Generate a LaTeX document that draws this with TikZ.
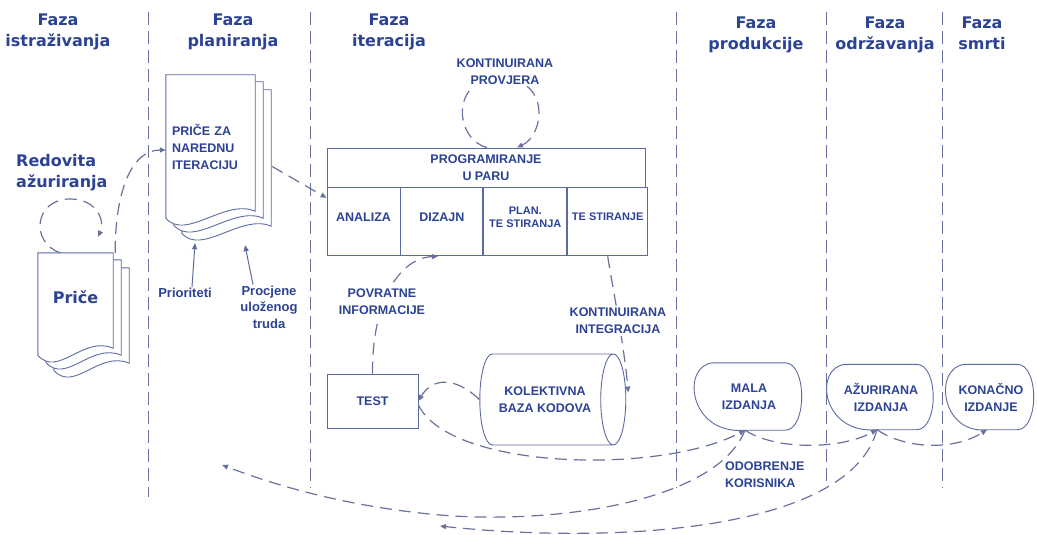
\documentclass[tikz,border=0pt]{standalone}
\usepackage{fontspec}
\setmainfont{Liberation Sans}
\newfontfamily\dejavu{DejaVu Sans}
\usetikzlibrary{arrows.meta,shapes.geometric,calc}

\definecolor{tekst}{RGB}{44,66,148}
\definecolor{linija}{RGB}{92,106,160}
\definecolor{crtka}{RGB}{104,114,156}

\pgfdeclarelayer{pozadina}
\pgfsetlayers{pozadina,main}

% hrpa papira iza cvora
\newcommand{\hrpa}[1]{%
  \begin{pgfonlayer}{pozadina}
  \foreach \dx/\dy in {16/15,8/7,0/0}
    \draw[rub, fill=white] ([shift={(\dx,-\dy)}]#1.north west) -- ([shift={(\dx,-\dy)}]#1.south west)
      .. controls +(20,-23) and +(-30,13) .. ([shift={(\dx,-\dy+7)}]#1.south east)
      -- ([shift={(\dx,-\dy)}]#1.north east) -- cycle;
  \end{pgfonlayer}}

% obrub izdanja
\newcommand{\izdanje}[1]{%
  \draw[rub] ([xshift=18pt]#1.north west) -- ([xshift=-18pt]#1.north east)
    .. controls ([xshift=4pt]#1.north east) and ([xshift=4pt]#1.south east) .. ([xshift=-18pt]#1.south east)
    -- ([xshift=-4pt]#1.south)
    .. controls ([shift={(-6pt,-5pt)}]#1.south west) and ([shift={(-14pt,-3pt)}]#1.north west) .. ([xshift=18pt]#1.north west);}

\begin{document}
\begin{tikzpicture}[x=1pt, y=1pt,
  naslov/.style={font=\dejavu\bfseries\fontsize{16}{21}\selectfont, text=tekst, align=center, inner sep=0pt},
  mali/.style={font=\bfseries\fontsize{12.5}{17}\selectfont, text=tekst, align=center, inner sep=1pt},
  manji/.style={font=\bfseries\fontsize{11}{13}\selectfont},
  oznaka/.style={font=\bfseries\fontsize{13}{16.5}\selectfont, text=tekst, align=center, inner sep=1pt},
  rub/.style={draw=linija, line width=0.9pt},
  celija/.style={rub, mali, minimum height=68pt, text depth=10pt, anchor=north west},
  veza/.style={draw=crtka, line width=1.2pt, dash pattern=on 12pt off 7pt, -{Triangle[length=6pt,width=5pt]}},
  strelica/.style={draw=linija, line width=1pt, -{Triangle[length=6pt,width=5pt]}},
  granica/.style={draw=crtka, line width=1pt, dash pattern=on 13pt off 6pt}]

  \useasboundingbox (0,0) rectangle (1037,-535);

  % granice faza
  \foreach \x/\d in {148/497,310/488,676/488,826/488,942/488}
    \draw[granica] (\x,-12) -- (\x,-\d);

  % naslovi
  \node[naslov, anchor=north] (h1) at (58,-14) {Faza\\istraživanja};
  \node[naslov, anchor=north] (h2) at (233,-14) {Faza\\planiranja};
  \node[naslov, anchor=north] (h3) at (389,-14) {Faza\\iteracija};
  \node[naslov, anchor=north] (h4) at (756,-17) {Faza\\produkcije};
  \node[naslov, anchor=north] (h5) at (885,-17) {Faza\\održavanja};
  \node[naslov, anchor=north] (h6) at (982,-17) {Faza\\smrti};

  % price
  \node[font=\dejavu\bfseries\fontsize{16}{20}\selectfont, text=tekst, inner sep=0pt,
    minimum width=75pt, minimum height=102pt, text depth=14pt] (price) at (75.5,-304) {Priče};
  \hrpa{price}
  \node[mali, align=left, text width=77pt, inner xsep=6pt, minimum height=143pt] (naredni)
    at (210.5,-146.5) {PRIČE ZA\\NAREDNU\\ITERACIJU};
  \hrpa{naredni}

  \node[oznaka] (prioriteti) at (185,-293) {Prioriteti};
  \node[oznaka] (procjene) at (269,-307) {Procjene\\uloženog\\truda};
  \draw[strelica] ([xshift=7pt]prioriteti.north) -- ([shift={(-15.5pt,-25pt)}]naredni.south);
  \draw[strelica] ([xshift=-16pt]procjene.north) -- ([shift={(34.5pt,-27pt)}]naredni.south);

  % iteracija
  \node[rub, mali, minimum width=318pt, minimum height=39pt] (parpr) at (486,-167.5) {PROGRAMIRANJE\\U PARU};
  \node[celija, minimum width=73pt] (analiza) at (parpr.south west) {ANALIZA};
  \node[celija, minimum width=82pt] (dizajn) at (analiza.north east) {DIZAJN};
  \node[celija, manji, minimum width=83pt] (plan) at (dizajn.north east) {PLAN.\\TE STIRANJA};
  \node[celija, manji, minimum width=80pt] (testiranje) at (plan.north east) {TE STIRANJE};

  \node[rub, mali, minimum width=91pt, minimum height=54pt] (test) at (372.5,-401) {TEST};
  \node[rub, mali, cylinder, aspect=0.9, minimum width=91pt, minimum height=146pt] (baza)
    at (545,-399.5) {KOLEKTIVNA\\BAZA KODOVA};

  % izdanja
  \node[mali, minimum width=108pt, minimum height=67pt] (mala) at (749,-396.5) {MALA\\IZDANJA};
  \izdanje{mala}
  \node[mali, minimum width=107pt, minimum height=65pt] (azurirana) at (881,-397) {AŽURIRANA\\IZDANJA};
  \izdanje{azurirana}
  \node[mali, minimum width=88pt, minimum height=65pt] (konacno) at (991,-397) {KONAČNO\\IZDANJE};
  \izdanje{konacno}
  \node[mali, align=left, anchor=west] (odobrenje) at (724,-475) {ODOBRENJE\\KORISNIKA};

  \coordinate (natrag1) at (222,-465);
  \coordinate (natrag2) at (440,-526);

  % veze
  \draw[veza] ([xshift=-15pt]price.north) .. controls (30,-243) and (34,-199) .. (70,-199)
    .. controls (98,-199) and (105,-222) .. ([shift={(22.5pt,16pt)}]price.north);
  \draw[veza] ([xshift=2pt]price.north east) .. controls (115,-195) and (130,-150) .. ([yshift=-3.5pt]naredni.west);
  \draw[veza] ([shift={(17pt,-20pt)}]naredni.east) -- ([yshift=24pt]analiza.west);
  \draw[veza] ([xshift=1pt]parpr.north) .. controls (456,-140) and (448,-80) .. (500,-77)
    .. controls (552,-80) and (544,-135) .. ([xshift=31pt]parpr.north);
  \draw[veza] (test.north) .. controls (372,-300) and (400,-258) .. ([xshift=-4pt]dizajn.south);
  \draw[veza] (testiranje.south) .. controls (614,-295) and (624,-345) .. ([shift={(2pt,7pt)}]baza.east);
  \draw[veza] (baza.west) .. controls (455,-376) and (432,-378) .. (test.east);
  \draw[veza] ([yshift=-4pt]test.east) .. controls (450,-470) and (660,-475) .. ([xshift=-4pt]mala.south);
  \draw[veza] ([xshift=-4pt]mala.south) .. controls (775,-450) and (840,-450) .. ([xshift=-4pt]azurirana.south);
  \draw[veza] ([xshift=-4pt]azurirana.south) .. controls (907,-450) and (955,-450) .. ([xshift=-4pt]konacno.south);
  \draw[veza] ([xshift=-4pt]mala.south) .. controls (718,-500) and (560,-525) .. (440,-515)
    .. controls (350,-507) and (280,-487) .. (natrag1);
  \draw[veza] ([xshift=-4pt]azurirana.south) .. controls (850,-530) and (620,-545) .. (natrag2);

  % tekstovi uz veze
  \node[naslov, align=left, anchor=north west, fill=white] (redovita) at (16,-154) {Redovita\\ažuriranja};
  \node[mali, fill=white] (provjera) at (505,-72) {KONTINUIRANA\\PROVJERA};
  \node[mali, fill=white, inner sep=2pt] (povratne) at (382,-302) {POVRATNE\\INFORMACIJE};
  \node[mali, fill=white, inner sep=2pt] (integracija) at (618,-321) {KONTINUIRANA\\INTEGRACIJA};
\end{tikzpicture}
\end{document}
